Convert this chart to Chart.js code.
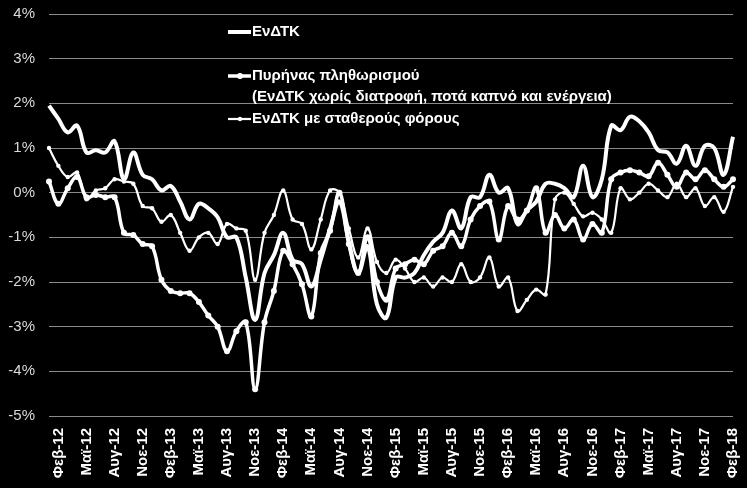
<!DOCTYPE html>
<html>
<head>
<meta charset="utf-8">
<script src="https://cdn.jsdelivr.net/npm/chart.js@4/dist/chart.umd.min.js"></script>
<style>
  html, body { margin: 0; padding: 0; background: #000; }
  #wrap { width: 747px; height: 488px; position: relative; }
</style>
</head>
<body>
<div id="wrap"><canvas id="infl"></canvas></div>
<script>
// Μήνες από Ιαν-12 έως Φεβ-18
const monthNames = ['Ιαν', 'Φεβ', 'Μαρ', 'Απρ', 'Μαϊ', 'Ιουν', 'Ιουλ', 'Αυγ', 'Σεπ', 'Οκτ', 'Νοε', 'Δεκ'];
const years = ['12', '13', '14', '15', '16', '17', '18'];

const yTicks = [4, 3, 2, 1, 0, -1, -2, -3, -4, -5];

// ΕνΔΤΚ
const hicp = [
  1.95, 1.65, 1.35, 1.5, 0.9, 0.95, 0.9, 1.15, 0.3, 0.9, 0.4, 0.3,
  0.05, 0.15, -0.2, -0.6, -0.25, -0.35, -0.55, -1.0, -1.0, -1.9, -2.85, -1.8,
  -1.4, -0.9, -1.5, -1.6, -2.1, -1.5, -0.8, -0.2, -1.1, -1.8, -1.2, -2.5,
  -2.8, -1.9, -1.9, -1.8, -1.4, -1.1, -0.9, -0.4, -0.8, -0.1, -0.1, 0.4,
  0.0, 0.1, -0.7, -0.4, -0.2, 0.2, 0.2, 0.1, -0.1, 0.6, -0.1, 0.3,
  1.5, 1.4, 1.7, 1.6, 1.35, 0.95, 0.9, 0.65, 1.05, 0.6, 1.05, 1.0,
  0.4, 1.25
];

// Πυρήνας πληθωρισμού
const core = [
  0.25, -0.25, 0.1, 0.35, -0.1, -0.05, -0.1, -0.1, -0.9, -0.95, -1.15, -1.2,
  -1.95, -2.2, -2.25, -2.25, -2.45, -2.75, -3.0, -3.55, -3.1, -2.9, -4.4, -2.9,
  -2.2, -1.3, -1.6, -2.05, -2.77, -1.35, -0.85, 0.0, -1.15, -1.8, -1.0, -2.0,
  -2.4, -1.7, -1.6, -1.5, -1.6, -1.3, -1.2, -0.9, -1.2, -0.6, -0.3, -0.2,
  -1.05, -0.3, -0.6, -0.4, 0.1, -0.9, -0.5, -0.8, -0.6, -1.05, -0.7, -0.9,
  0.3, 0.45, 0.5, 0.45, 0.37, 0.67, 0.4, 0.13, 0.45, 0.3, 0.5, 0.3,
  0.13, 0.3
];

// ΕνΔΤΚ με σταθερούς φόρους
const constTax = [
  1.0, 0.6, 0.35, 0.45, -0.15, 0.05, 0.1, 0.3, 0.25, 0.2, -0.3, -0.35,
  -0.65, -0.5, -0.9, -1.3, -1.0, -0.9, -1.15, -0.7, -0.8, -0.85, -1.95, -0.9,
  -0.5, 0.05, -0.6, -0.7, -1.27, -0.6, 0.05, 0.0, -0.8, -1.45, -0.8, -1.55,
  -1.8, -1.5, -1.7, -2.0, -1.9, -2.1, -1.9, -2.0, -1.6, -2.0, -1.9, -1.45,
  -2.1, -1.9, -2.65, -2.4, -2.17, -2.28, -0.15, 0.0, -0.25, -0.53, -0.45, -0.6,
  -0.9, 0.1, -0.15, 0.0, 0.2, 0.05, -0.1, 0.2, -0.1, 0.1, -0.3, -0.1,
  -0.43, 0.13
];

const legendItems = [
  { lines: ['ΕνΔΤΚ'], width: 4, marker: 0 },
  { lines: ['Πυρήνας πληθωρισμού', '(ΕνΔΤΚ χωρίς διατροφή, ποτά καπνό και ενέργεια)'], width: 3.5, marker: 3 },
  { lines: ['ΕνΔΤΚ με σταθερούς φόρους'], width: 2.2, marker: 2.2 }
];

const labels = [];
years.forEach(y => monthNames.forEach(m => labels.push(m + '-' + y)));
labels.length = hicp.length;

const FONT = "'Liberation Sans', Arial, sans-serif";

// Υπόμνημα σχεδιασμένο με το χέρι (διαφανές, πάνω στο γράφημα)
const legendPlugin = {
  id: 'greekLegend',
  afterDatasetsDraw(chart) {
    const ctx = chart.ctx;
    const rows = [32, 76, 119];
    ctx.save();
    ctx.fillStyle = '#fff';
    ctx.strokeStyle = '#fff';
    ctx.font = 'bold 15px ' + FONT;
    ctx.textBaseline = 'middle';
    legendItems.forEach((item, i) => {
      const y = rows[i];
      ctx.lineWidth = item.width;
      ctx.beginPath();
      ctx.moveTo(228, y);
      ctx.lineTo(251, y);
      ctx.stroke();
      if (item.marker) {
        ctx.beginPath();
        ctx.arc(240, y, item.marker, 0, Math.PI * 2);
        ctx.fill();
      }
      item.lines.forEach((t, k) => ctx.fillText(t, 252, y + k * 21));
    });
    ctx.restore();
  }
};

const ctx = document.getElementById('infl').getContext('2d');

new Chart(ctx, {
  type: 'line',
  data: {
    labels: labels,
    datasets: [
      {
        label: 'ΕνΔΤΚ',
        data: hicp,
        borderColor: '#fff',
        borderWidth: 4,
        pointRadius: 0,
        tension: 0.4
      },
      {
        label: 'Πυρήνας πληθωρισμού',
        data: core,
        borderColor: '#fff',
        borderWidth: 3.5,
        pointRadius: 3,
        pointBackgroundColor: '#fff',
        pointBorderWidth: 0,
        tension: 0.4
      },
      {
        label: 'ΕνΔΤΚ με σταθερούς φόρους',
        data: constTax,
        borderColor: '#fff',
        borderWidth: 2.2,
        pointRadius: 2.2,
        pointBackgroundColor: '#fff',
        pointBorderWidth: 0,
        tension: 0.4
      }
    ]
  },
  options: {
    responsive: true,
    maintainAspectRatio: false,
    animation: false,
    layout: { padding: { top: 14, right: 14, left: 0, bottom: 0 } },
    plugins: {
      legend: { display: false },
      tooltip: { enabled: false }
    },
    scales: {
      x: {
        grid: { display: false, drawTicks: false },
        border: { display: false },
        afterFit: s => {
          s.height = 72;
          s.paddingLeft = 0;
          s.paddingRight = 0;
        },
        ticks: {
          autoSkip: false,
          maxRotation: 90,
          minRotation: 90,
          padding: 12,
          color: '#fff',
          font: { family: FONT, size: 15, weight: 'bold' },
          callback: function(value, index) {
            return index % 3 === 1 ? labels[index] : null;
          }
        }
      },
      y: {
        min: -5,
        max: 4,
        afterFit: s => {
          s.width = 49;
          s.paddingTop = 0;
          s.paddingBottom = 0;
        },
        afterBuildTicks: s => { s.ticks = yTicks.map(v => ({ value: v })); },
        grid: { color: '#8a8a8a', lineWidth: 1, drawTicks: false },
        border: { display: false },
        ticks: {
          padding: 14,
          color: '#d9d9d9',
          font: { family: FONT, size: 15 },
          callback: v => v + '%'
        }
      }
    }
  },
  plugins: [legendPlugin]
});
</script>
</body>
</html>
